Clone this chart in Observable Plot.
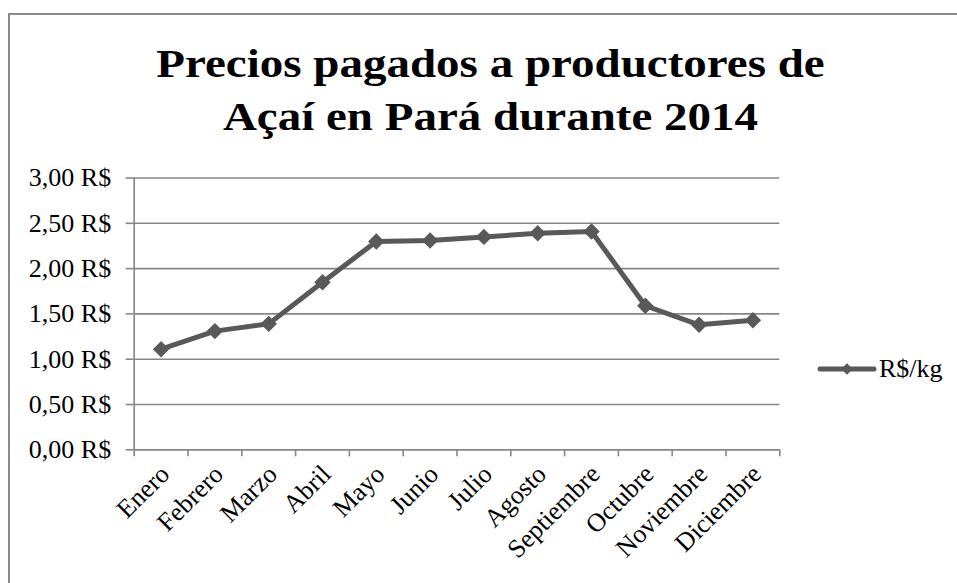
<!DOCTYPE html>
<html><head><meta charset="utf-8">
<script src="https://cdn.jsdelivr.net/npm/d3@7"></script>
<script src="https://cdn.jsdelivr.net/npm/@observablehq/plot@0.6"></script>
<style>
html,body{margin:0;padding:0;background:#fff;overflow:hidden;scrollbar-width:none;}
::-webkit-scrollbar{width:0;height:0;display:none;}
#wrap{position:relative;width:957px;height:583px;overflow:hidden;background:#fff;font-family:"Liberation Serif","Times New Roman",serif;color:#000;}
#hline{position:absolute;left:8px;top:13px;width:1200px;height:2px;background:#8a8a8a;}
#vline{position:absolute;left:8px;top:13px;width:2px;height:1200px;background:#8a8a8a;}
.tl{position:absolute;left:0;width:981px;text-align:center;font-weight:bold;font-size:47px;line-height:47px;transform:scaleY(0.86);transform-origin:0 0;white-space:nowrap;}
#chart{position:absolute;left:0;top:0;}
#legend{position:absolute;left:817px;top:354px;height:30px;display:flex;align-items:center;font-size:26px;white-space:nowrap;}
#legend svg{display:block;margin-right:2px;}
</style>
</head><body>
<div id="wrap">
  <div id="hline"></div>
  <div id="vline"></div>
  <div id="chart"></div>
  <div id="t1" class="tl"></div>
  <div id="t2" class="tl"></div>
  <div id="legend"></div>
</div>
<script>
const titleLines = ["Precios pagados a productores de", "Açaí en Pará durante 2014"];
const months = ["Enero","Febrero","Marzo","Abril","Mayo","Junio","Julio","Agosto","Septiembre","Octubre","Noviembre","Diciembre"];
const prices = [1.11, 1.31, 1.39, 1.85, 2.30, 2.31, 2.35, 2.39, 2.41, 1.59, 1.38, 1.43];
const yTicks = [0, 0.5, 1, 1.5, 2, 2.5, 3];
const seriesName = "R$/kg";

const lineColor = "#595959";
const gridColor = "#868686";

const data = months.map((m, i) => ({month: m, pos: i + 0.5, price: prices[i]}));
const centers = months.map((m, i) => i + 0.5);
const bounds = d3.range(months.length + 1);
const fmt = v => v.toFixed(2).replace(".", ",") + " R$";

const chart = Plot.plot({
  width: 957,
  height: 583,
  marginTop: 177.5,
  marginBottom: 133.7,
  marginLeft: 133.7,
  marginRight: 177.7,
  style: {fontFamily: '"Liberation Serif", "Times New Roman", serif', fontSize: "26px", color: "#000", background: "transparent", overflow: "visible"},
  x: {domain: [0, months.length]},
  y: {domain: [0, 3]},
  marks: [
    Plot.gridY(yTicks, {stroke: gridColor, strokeOpacity: 1, strokeWidth: 1.6}),
    Plot.axisY(yTicks, {tickSize: 8, tickPadding: 15, tickFormat: fmt, stroke: gridColor, strokeWidth: 1.6, fontSize: 26, label: null}),
    Plot.axisX(bounds, {tickSize: 7, tickFormat: () => "", stroke: gridColor, strokeWidth: 1.6, label: null}),
    Plot.axisX(centers, {tickSize: 0, tickPadding: 20, dx: 4, tickFormat: v => months[Math.floor(v)], tickRotate: -45, fontSize: 26, label: null}),
    Plot.ruleX([0], {stroke: gridColor, strokeWidth: 1.6}),
    Plot.ruleY([0], {stroke: gridColor, strokeWidth: 1.6}),
    Plot.line(data, {x: "pos", y: "price", stroke: lineColor, strokeWidth: 5, strokeLinejoin: "round"}),
    Plot.dot(data, {x: "pos", y: "price", symbol: "diamond2", r: 7.4, fill: lineColor, stroke: "none"})
  ]
});
document.getElementById("chart").appendChild(chart);

// Title
const t1 = document.getElementById("t1");
const t2 = document.getElementById("t2");
t1.textContent = titleLines[0];
t2.textContent = titleLines[1];
t1.style.top = "43px";
t2.style.top = "96px";

// Legend
const leg = d3.select("#legend");
const sw = leg.append("svg").attr("width", 60).attr("height", 30);
sw.append("line").attr("x1", 3).attr("x2", 57).attr("y1", 15).attr("y2", 15)
  .attr("stroke", lineColor).attr("stroke-width", 5).attr("stroke-linecap", "round");
sw.append("path").attr("transform", "translate(30,15)")
  .attr("d", d3.symbol(d3.symbolDiamond2, 85)()).attr("fill", lineColor);
leg.append("span").text(seriesName);
</script>
</body></html>
